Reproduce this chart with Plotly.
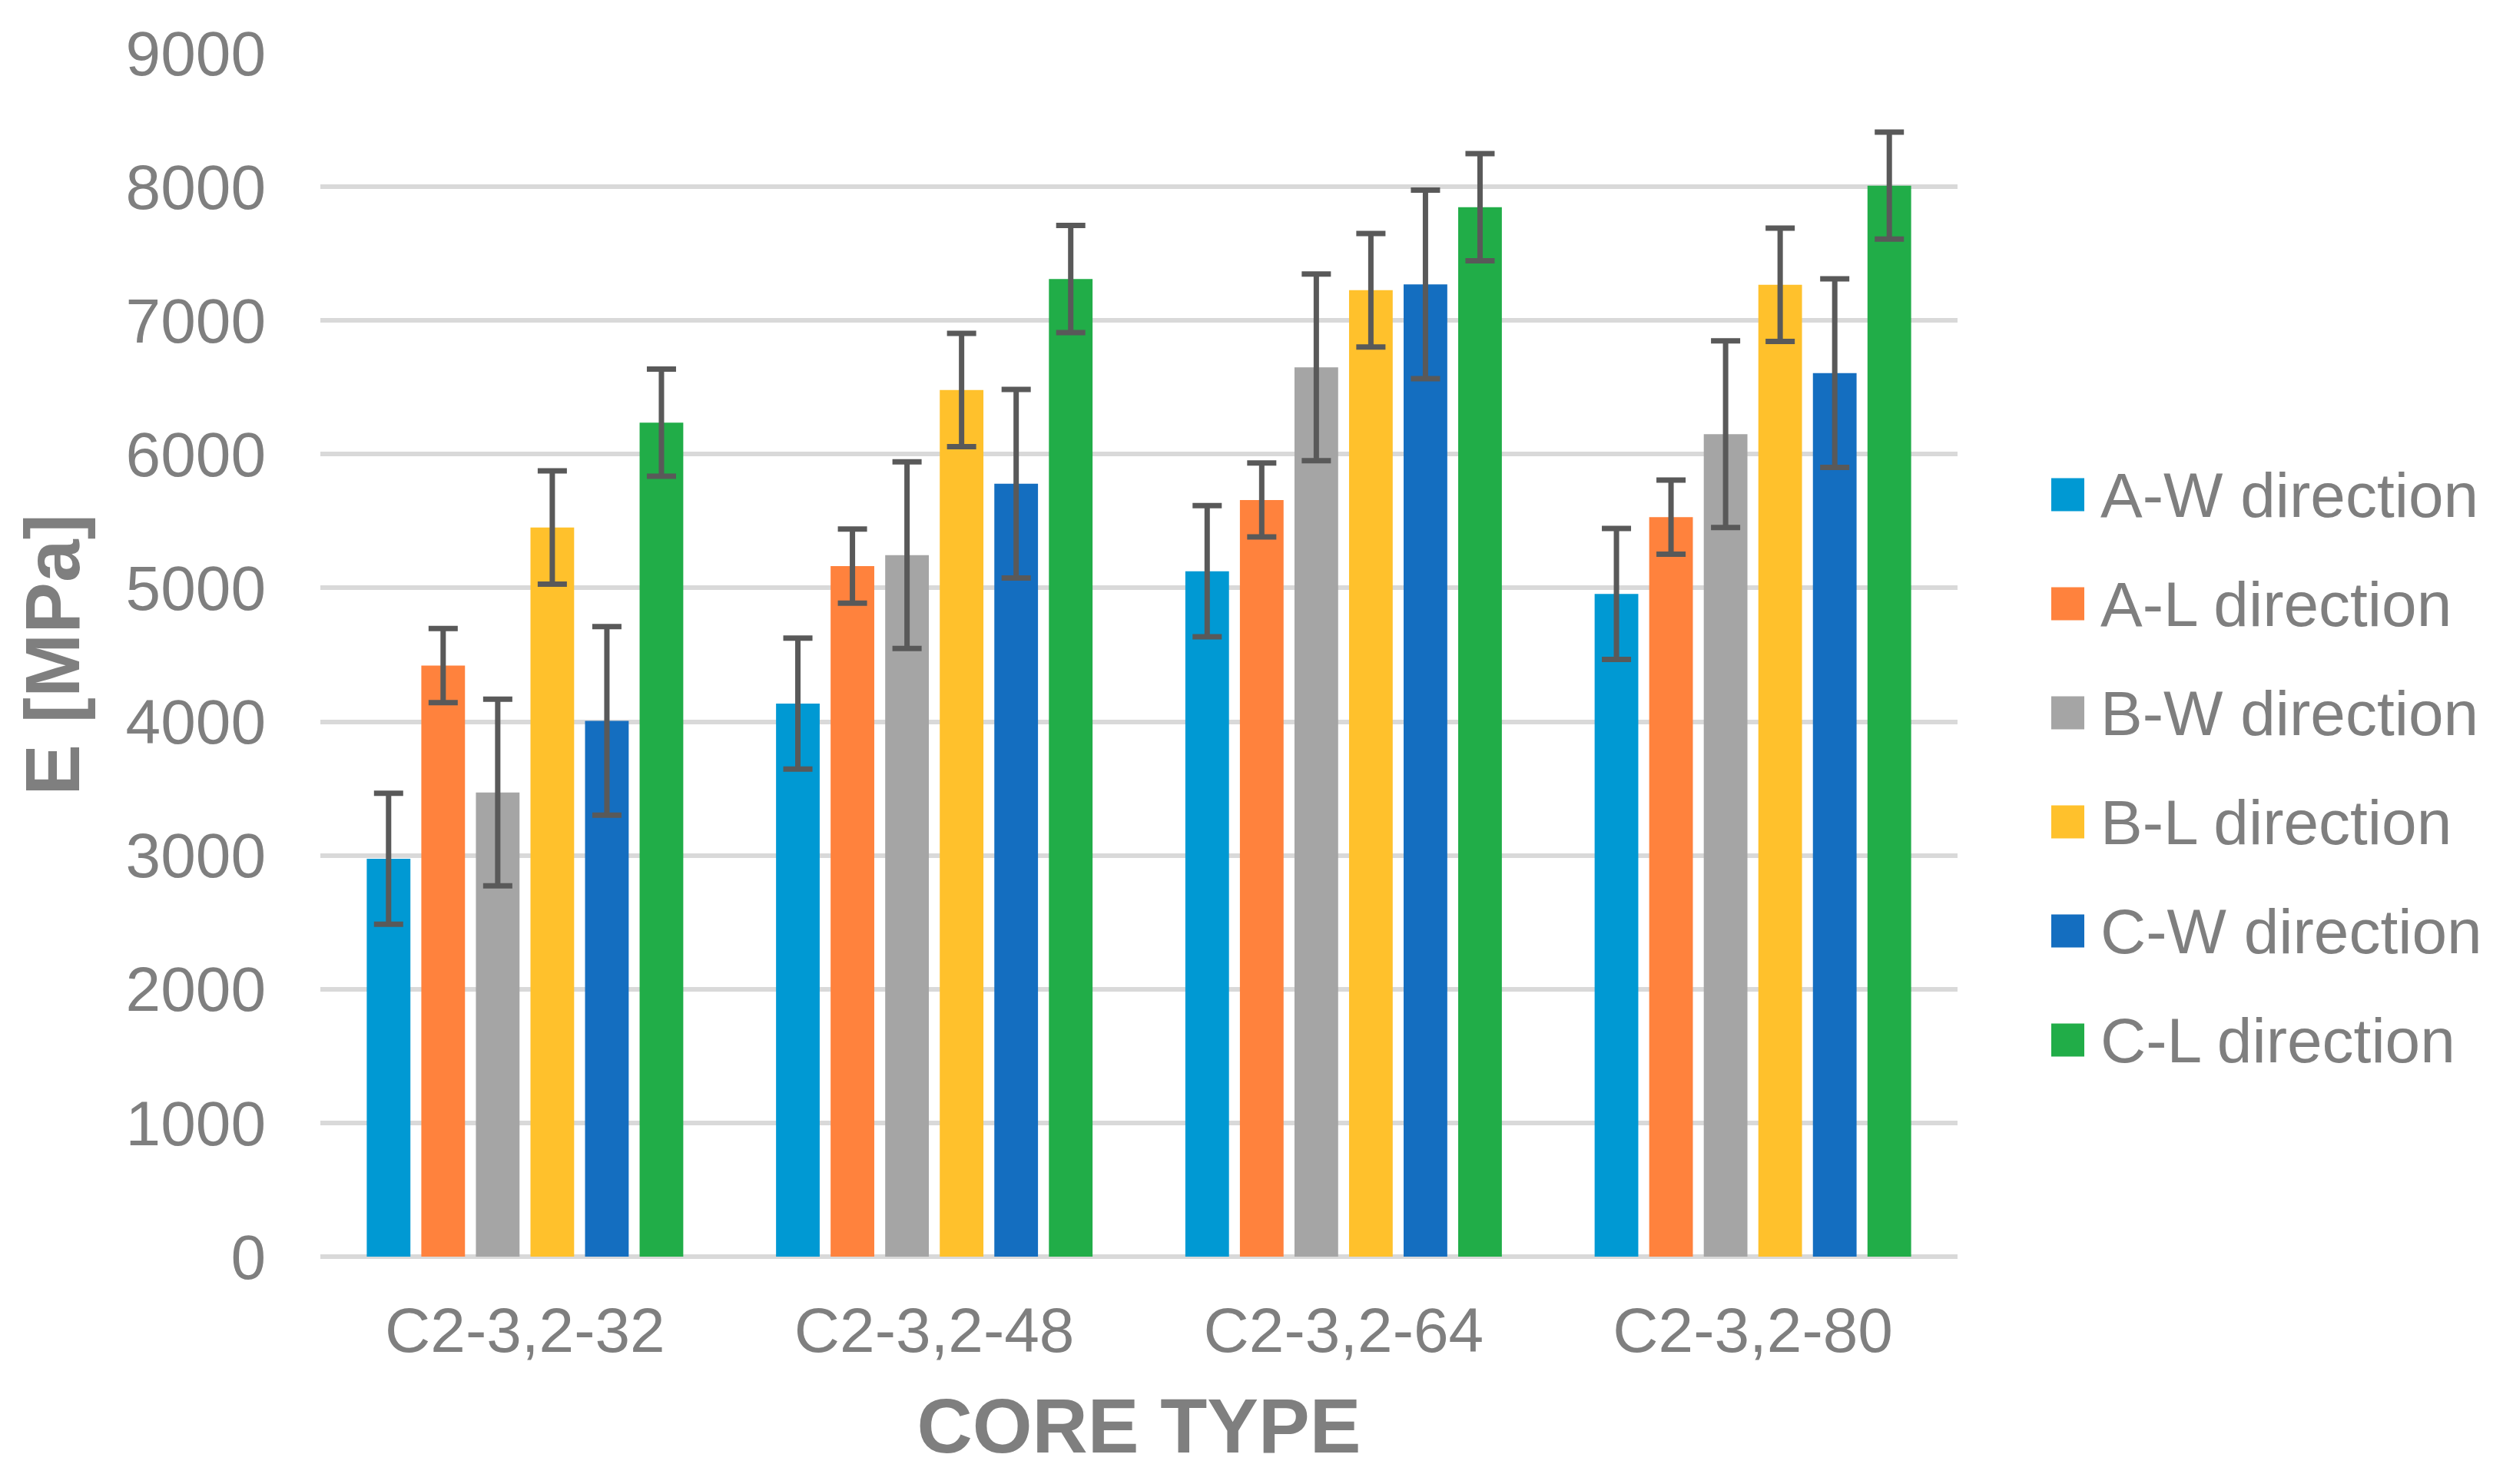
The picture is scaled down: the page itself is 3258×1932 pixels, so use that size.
import plotly.graph_objects as go

# ---------------- data ----------------
categories = ["C2-3,2-32", "C2-3,2-48", "C2-3,2-64", "C2-3,2-80"]

series_names = ["A-W direction", "A-L direction", "B-W direction",
                "B-L direction", "C-W direction", "C-L direction"]

aw_values = [2975, 4135, 5125, 4955]
aw_errors = [490, 490, 490, 490]
al_values = [4420, 5163, 5658, 5530]
al_errors = [277, 277, 277, 277]
bw_values = [3470, 5245, 6649, 6150]
bw_errors = [698, 698, 698, 698]
bl_values = [5452, 6480, 7226, 7267]
bl_errors = [424, 424, 424, 424]
cw_values = [4006, 5780, 7270, 6606]
cw_errors = [705, 705, 705, 705]
cl_values = [6236, 7310, 7847, 8008]
cl_errors = [400, 400, 400, 400]

y_tick_values = [0, 1000, 2000, 3000, 4000, 5000, 6000, 7000, 8000, 9000]

# ---------------- style ----------------
colors = ["#0099D3", "#FF823D", "#A5A5A5", "#FFC12C", "#146EC0", "#21AD48"]
text_color = "#7F7F7F"
grid_color = "#D9D9D9"
err_color = "#595959"
font_family = "Liberation Sans, Arial, sans-serif"

W, H = 3258, 1932          # browser window
PAGE = 8                   # default body margin of the html page
FW, FH = W - 2 * PAGE, H - 2 * PAGE
# plot area in window pixels
PX0, PX1, PY0, PY1 = 417, 2548, 69, 1636
ML, MT = PX0 - PAGE, PY0 - PAGE
MR, MB = FW - (PX1 - PAGE), FH - (PY1 - PAGE)
plot_w = PX1 - PX0
plot_h = PY1 - PY0

values = [aw_values, al_values, bw_values, bl_values, cw_values, cl_values]
errors = [aw_errors, al_errors, bw_errors, bl_errors, cw_errors, cl_errors]

fig = go.Figure()
for name, vals, errs, col in zip(series_names, values, errors, colors):
    fig.add_trace(go.Bar(
        name=name, x=categories, y=vals, marker_color=col,
        marker_line_width=0,
        error_y=dict(type="data", array=errs, visible=True,
                     color=err_color, thickness=7, width=19),
    ))

# custom legend (large square keys like the original), window pixel layout
leg_sq_left, leg_sq_size = 2670, 43
leg_text_left = 2732
leg_first_cy, leg_step = 644, 142
shapes = []
annotations = []
for i, (name, col) in enumerate(zip(series_names, colors)):
    cy = leg_first_cy + i * leg_step
    x0 = (leg_sq_left - PX0) / plot_w
    x1 = (leg_sq_left + leg_sq_size - PX0) / plot_w
    y0 = (PY1 - (cy + leg_sq_size / 2)) / plot_h
    y1 = (PY1 - (cy - leg_sq_size / 2)) / plot_h
    shapes.append(dict(type="rect", xref="paper", yref="paper",
                       x0=x0, x1=x1, y0=y0, y1=y1,
                       fillcolor=col, line=dict(width=0)))
    annotations.append(dict(text=name, xref="paper", yref="paper",
                            x=(leg_text_left - PX0) / plot_w,
                            y=(PY1 - cy) / plot_h,
                            xanchor="left", yanchor="middle", showarrow=False,
                            font=dict(size=82, color=text_color, family=font_family)))

fig.update_layout(
    width=FW, height=FH,
    margin=dict(l=ML, r=MR, t=MT, b=MB, autoexpand=False),
    paper_bgcolor="white", plot_bgcolor="white",
    barmode="group", bargap=0.2, bargroupgap=0.2,
    showlegend=False,
    font=dict(family=font_family, color=text_color, size=82),
    shapes=shapes, annotations=annotations,
)

fig.update_yaxes(
    range=[0, 9000], tickvals=y_tick_values,
    showgrid=True, gridcolor=grid_color, gridwidth=6,
    zeroline=True, zerolinecolor=grid_color, zerolinewidth=6,
    showline=False, ticks="", ticklabelstandoff=70,
    tickfont=dict(size=82, color=text_color, family=font_family),
    title=dict(text="E [MPa]", standoff=26,
               font=dict(size=100, color=text_color, family=font_family, weight="bold")),
    automargin=False,
)
fig.update_xaxes(
    showgrid=False, showline=False, ticks="", ticklabelstandoff=41,
    tickfont=dict(size=82, color=text_color, family=font_family),
    title=dict(text="CORE TYPE", standoff=44,
               font=dict(size=100, color=text_color, family=font_family, weight="bold")),
    automargin=False,
)

fig.write_html("out.html")
